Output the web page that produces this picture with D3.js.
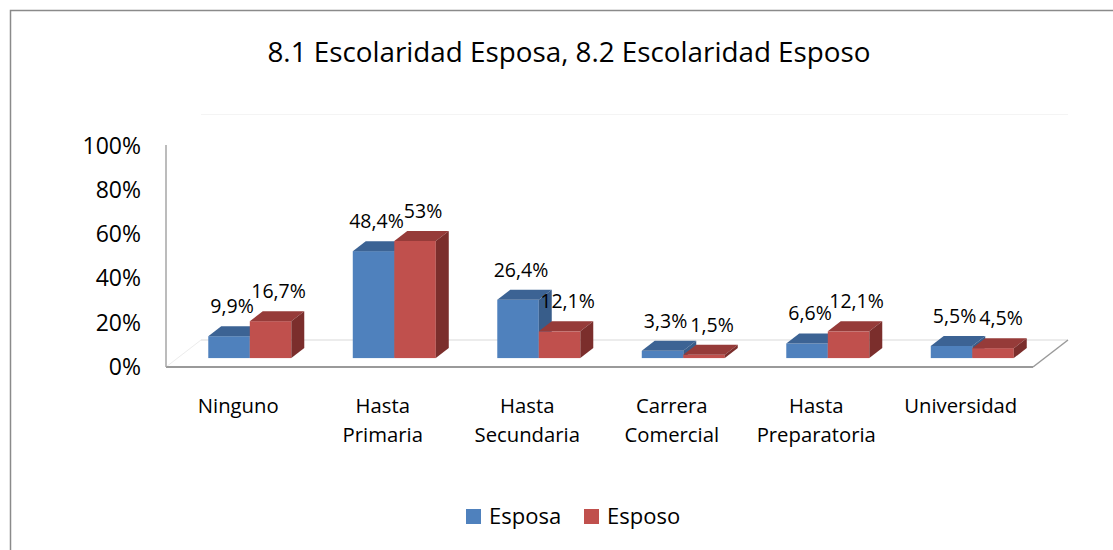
<!DOCTYPE html>
<html>
<head>
<meta charset="utf-8">
<script src="https://cdn.jsdelivr.net/npm/d3@7"></script>
<style>
  html, body { margin: 0; padding: 0; background: #fff; }
  svg { display: block; }
  text { font-family: "Open Sans", sans-serif; fill: #000; }
</style>
</head>
<body>
<svg id="chart" width="1113" height="550"></svg>
<script>
const title = "8.1 Escolaridad Esposa, 8.2 Escolaridad Esposo";
const categories = ["Ninguno", "Hasta\nPrimaria", "Hasta\nSecundaria", "Carrera\nComercial", "Hasta\nPreparatoria", "Universidad"];
const seriesNames = ["Esposa", "Esposo"];
const esposa = [9.9, 48.4, 26.4, 3.3, 6.6, 5.5];
const esposo = [16.7, 53, 12.1, 1.5, 12.1, 4.5];
const yTicks = [0, 20, 40, 60, 80, 100];
const colors = {
  Esposa: { front: "#4F81BD", top: "#3C6394", side: "#385D8A" },
  Esposo: { front: "#C0504D", top: "#963B39", side: "#7B2E2C" }
};

const svg = d3.select("#chart");

// chart frame
svg.append("rect").attr("x", 10.5).attr("y", 10.5).attr("width", 1200).attr("height", 600)
  .attr("fill", "none").attr("stroke", "#8a8a8a").attr("stroke-width", 1.5);

// title
svg.append("text").attr("x", 569).attr("y", 62).attr("text-anchor", "middle")
  .style("font-size", "27.8px").text(title);

// geometry
const floorL = 166, floorR = 1033;
const depth = { dx: 35, dy: -27 };
const f0 = 0.33, fd = 0.37;

const x0 = d3.scaleBand().domain(d3.range(categories.length)).range([floorL, floorR]);
const x1 = d3.scaleBand().domain(seriesNames).range([0, x0.bandwidth()]).paddingOuter(0.74);
const y = d3.scaleLinear().domain([0, 100]).range([367, 146]);

const y0 = y(0);
// back wall & floor
svg.append("line").attr("x1", floorL + depth.dx).attr("x2", floorR + depth.dx)
  .attr("y1", y(100) + depth.dy - 4.5).attr("y2", y(100) + depth.dy - 4.5)
  .attr("stroke", "#f4f4f4");
svg.append("line").attr("x1", floorL + depth.dx).attr("x2", floorR + depth.dx)
  .attr("y1", y0 + depth.dy).attr("y2", y0 + depth.dy)
  .attr("stroke", "#d9d9d9");
svg.append("line").attr("x1", floorL).attr("y1", y0).attr("x2", floorL + depth.dx).attr("y2", y0 + depth.dy)
  .attr("stroke", "#ececec");

// bars
const data = seriesNames.map((s, si) => ({ name: s, values: si === 0 ? esposa : esposo }));
const fmt = v => (Number.isInteger(v) ? String(v) : v.toFixed(1).replace(".", ",")) + "%";

const bdx = depth.dx * fd, bdy = depth.dy * fd;
const gBars = svg.append("g");
categories.forEach((c, i) => {
  data.forEach(s => {
    const v = s.values[i];
    const x = x0(i) + x1(s.name) + depth.dx * f0;
    const yb = y0 + depth.dy * f0;
    const yt = y(v) + depth.dy * f0;
    const w = x1.bandwidth();
    const col = colors[s.name];
    gBars.append("rect").attr("x", x).attr("y", yt).attr("width", w).attr("height", yb - yt)
      .attr("fill", col.front);
    gBars.append("polygon")
      .attr("points", [[x, yt], [x + bdx, yt + bdy], [x + w + bdx, yt + bdy], [x + w, yt]].map(p => p.join(",")).join(" "))
      .attr("fill", col.top);
    gBars.append("polygon")
      .attr("points", [[x + w, yt], [x + w + bdx, yt + bdy], [x + w + bdx, yb + bdy], [x + w, yb]].map(p => p.join(",")).join(" "))
      .attr("fill", col.side);
  });
});

// data labels
categories.forEach((c, i) => {
  data.forEach((s, si) => {
    const v = s.values[i];
    const x = x0(i) + x1(s.name) + depth.dx * f0 + x1.bandwidth() / 2 + (si === 0 ? 3 : 8);
    const yt = y(v) + depth.dy * f0;
    svg.append("text").attr("x", x).attr("y", yt - 30).attr("dy", "0.35em")
      .attr("text-anchor", "middle").style("font-size", "19.5px").text(fmt(v));
  });
});

// front floor edge & axis line
svg.append("line").attr("x1", floorL).attr("x2", floorR).attr("y1", y0).attr("y2", y0)
  .attr("stroke", "#9a9a9a").attr("stroke-width", 2);
svg.append("line").attr("x1", floorR).attr("y1", y0).attr("x2", floorR + depth.dx).attr("y2", y0 + depth.dy)
  .attr("stroke", "#9a9a9a").attr("stroke-width", 1.5);
svg.append("line").attr("x1", floorL).attr("x2", floorL).attr("y1", y(100) - 1).attr("y2", y0)
  .attr("stroke", "#a6a6a6").attr("stroke-width", 1.5);

// y axis
const yAxis = d3.axisLeft(y).tickValues(yTicks).tickFormat(d => d + "%").tickSize(0).tickPadding(25);
const gy = svg.append("g").attr("transform", `translate(${floorL},0)`).call(yAxis);
gy.select(".domain").remove();
gy.selectAll("text").style("font-size", "23px").style("font-family", "'Open Sans', sans-serif").attr("fill", "#000");

// category labels
categories.forEach((c, i) => {
  const t = svg.append("text").attr("x", x0(i) + x0.bandwidth() / 2).attr("y", 413)
    .attr("text-anchor", "middle").style("font-size", "20.3px");
  c.split("\n").forEach((line, li) => {
    t.append("tspan").attr("x", x0(i) + x0.bandwidth() / 2).attr("dy", li === 0 ? 0 : 29).text(line);
  });
});

// legend
const legX = [466, 584];
seriesNames.forEach((s, si) => {
  svg.append("rect").attr("x", legX[si]).attr("y", 509).attr("width", 15).attr("height", 15)
    .attr("fill", colors[s].front);
  svg.append("text").attr("x", legX[si] + 23).attr("y", 524).style("font-size", "22px").text(s);
});
</script>
</body>
</html>
